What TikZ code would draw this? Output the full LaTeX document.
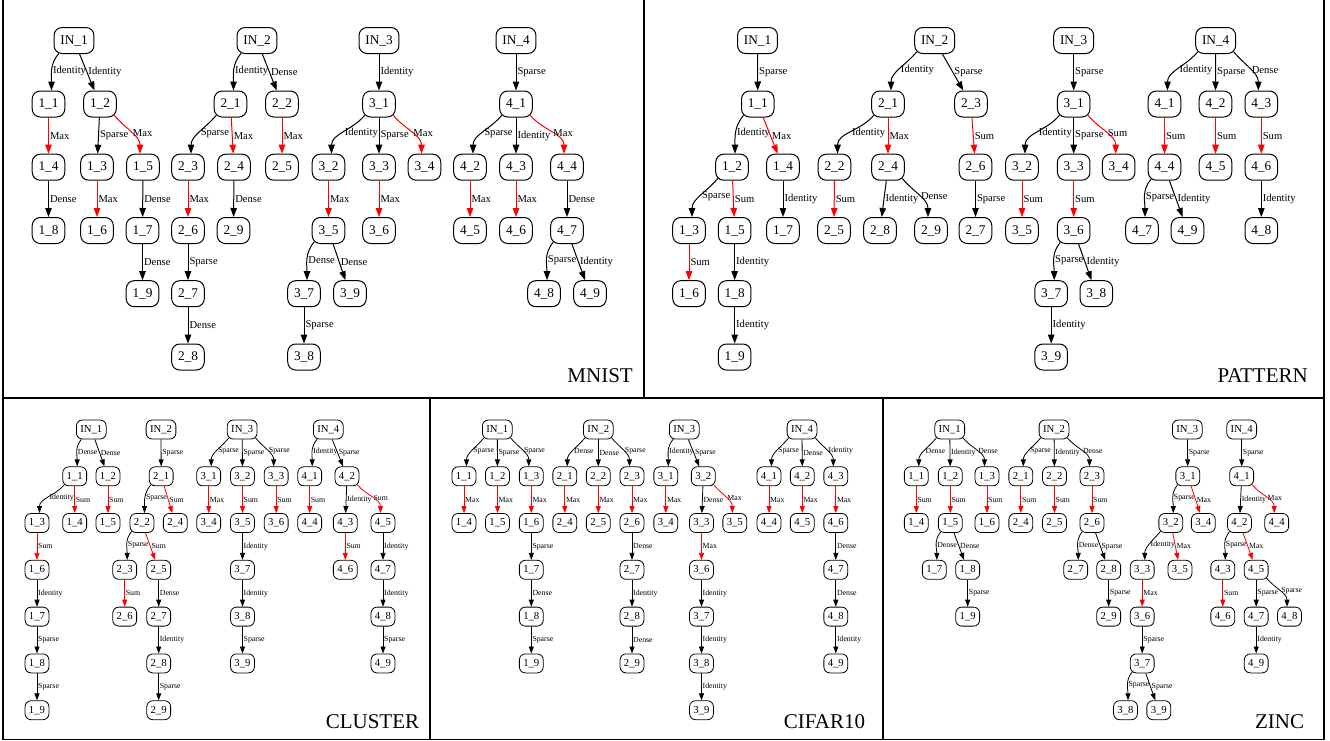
\documentclass[tikz,border=0pt]{standalone}
\usepackage{fontspec}
\setmainfont{Liberation Serif}
\newfontfamily\tms{Liberation Serif}
\usetikzlibrary{arrows.meta,calc}
\makeatletter
\newcommand\gnode[5]{\node[nn] (#1#2#3) at (#4,-#5) {#2\_#3};}
\newcommand\ginp[4]{\node[nn] (#1I#2) at (#3,-#4) {IN\_#2};}
\newcommand\gedge[4][]{%
  \pgfpointdiff{\pgfpointanchor{#2}{center}}{\pgfpointanchor{#3}{center}}%
  \pgfmathsetmacro\edx{\pgf@x}%
  \pgfpointdiff{\pgfpointanchor{#2}{center}}{\pgfpointanchor{#2}{east}}%
  \pgfmathsetmacro\ehw{\pgf@x}%
  \pgfmathsetmacro\ecurv{((\edx<\thrL) || (\edx>\thrR)) ? 1 : 0}%
  \ifdim\ecurv pt>0.5pt
    \pgfmathsetmacro\eab{min(0.6*abs(\edx), \ehw-\co)}%
    \pgfmathsetmacro\esx{\edx<0 ? -\eab : \eab}%
    \pgfmathsetmacro\eu{max(\eab-(\ehw-\rr),0)}%
    \pgfmathsetmacro\ey{\rr-sqrt(\rr*\rr-\eu*\eu)}%
    \pgfmathsetmacro\eout{\edx<0 ? -130 : -50}%
    \pgfmathsetmacro\eex{\edx<0 ? \eo : -\eo}%
    \draw[con,#1] ($(#2.south)+(\esx,\ey)$) to[out=\eout,in=90] node[elab,pos=0.5]{#4} ($(#3.north)+(\eex,0)$);
  \else
    \draw[con,#1] (#2) -- node[elab]{#4} (#3);
  \fi}
\makeatother
\def\ya{40.5}\def\yb{104}\def\yc{167.2}\def\yd{230.5}\def\ye{293.7}\def\yf{357}
\def\Ya{429.5}\def\Yb{476.3}\def\Yc{523}\def\Yd{569.8}\def\Ye{616.6}\def\Yf{663.4}\def\Yg{710.2}
\begin{document}
\begin{tikzpicture}[x=1pt,y=1pt,
  frame/.style={line width=1.3pt},
  title/.style={anchor=base east, inner sep=0pt, font=\tms\fontsize{21}{24}\selectfont}]
\useasboundingbox (0,0) rectangle (1330,-740);
\draw[frame] (3,0) -- (3,-739.3) -- (1324,-739.3) -- (1324,0);
\draw[frame] (644,0) -- (644,-398);
\draw[frame] (3,-398) -- (1324,-398);
\draw[frame] (430,-398) -- (430,-739.3);
\draw[frame] (883,-398) -- (883,-739.3);
\node[title] (tmnist) at (633,-382) {MNIST};
\node[title] (tpattern) at (1308,-382) {PATTERN};
\node[title] (tcluster) at (419.3,-728) {CLUSTER};
\node[title] (tcifar) at (865.3,-728) {CIFAR10};
\node[title] (tzinc) at (1304.3,-728) {ZINC};
% ---------------- top panels
\begin{scope}[nn/.style={draw, line width=1pt, rounded corners=8pt, inner xsep=6.3pt, inner ysep=0pt, minimum height=26pt, font=\tms\fontsize{13.3}{15}\selectfont},
  con/.style={line width=1pt, -{Triangle[length=9pt,width=6.5pt]}},
  elab/.style={anchor=west, inner sep=1pt, text=black, font=\tms\fontsize{10.6}{12}\selectfont}]
\def\thrL{-12}\def\thrR{38}\def\co{2.5}\def\eo{3}\def\rr{8}
% MNIST
\ginp{a}{1}{74}{\ya}
\gnode{a}{1}{1}{48.5}{\yb} \gnode{a}{1}{2}{100}{\yb}
\gnode{a}{1}{4}{48.5}{\yc} \gnode{a}{1}{3}{97}{\yc} \gnode{a}{1}{5}{143}{\yc}
\gnode{a}{1}{8}{48.5}{\yd} \gnode{a}{1}{6}{97}{\yd} \gnode{a}{1}{7}{142.5}{\yd}
\gnode{a}{1}{9}{142.5}{\ye}
\ginp{a}{2}{257}{\ya}
\gnode{a}{2}{1}{230.5}{\yb} \gnode{a}{2}{2}{282}{\yb}
\gnode{a}{2}{3}{188}{\yc} \gnode{a}{2}{4}{234}{\yc} \gnode{a}{2}{5}{282}{\yc}
\gnode{a}{2}{6}{188}{\yd} \gnode{a}{2}{9}{233.5}{\yd}
\gnode{a}{2}{7}{188}{\ye} \gnode{a}{2}{8}{188}{\yf}
\ginp{a}{3}{379}{\ya}
\gnode{a}{3}{1}{379}{\yb}
\gnode{a}{3}{2}{328.5}{\yc} \gnode{a}{3}{3}{379}{\yc} \gnode{a}{3}{4}{424.5}{\yc}
\gnode{a}{3}{5}{328.5}{\yd} \gnode{a}{3}{6}{379}{\yd}
\gnode{a}{3}{7}{304}{\ye} \gnode{a}{3}{9}{350}{\ye}
\gnode{a}{3}{8}{304}{\yf}
\ginp{a}{4}{516}{\ya}
\gnode{a}{4}{1}{516}{\yb}
\gnode{a}{4}{2}{470}{\yc} \gnode{a}{4}{3}{516}{\yc} \gnode{a}{4}{4}{567}{\yc}
\gnode{a}{4}{5}{470}{\yd} \gnode{a}{4}{6}{516}{\yd} \gnode{a}{4}{7}{567}{\yd}
\gnode{a}{4}{8}{544}{\ye} \gnode{a}{4}{9}{590}{\ye}
\gedge{aI1}{a11}{Identity} \gedge{aI1}{a12}{Identity}
\gedge[red]{a11}{a14}{Max} \gedge{a12}{a13}{Sparse} \gedge[red]{a12}{a15}{Max}
\gedge{a14}{a18}{Dense} \gedge[red]{a13}{a16}{Max} \gedge{a15}{a17}{Dense} \gedge{a17}{a19}{Dense}
\gedge{aI2}{a21}{Identity} \gedge{aI2}{a22}{Dense}
\gedge{a21}{a23}{Sparse} \gedge[red]{a21}{a24}{Max} \gedge[red]{a22}{a25}{Max}
\gedge[red]{a23}{a26}{Max} \gedge{a24}{a29}{Dense} \gedge{a26}{a27}{Sparse} \gedge{a27}{a28}{Dense}
\gedge{aI3}{a31}{Identity}
\gedge{a31}{a32}{Identity} \gedge{a31}{a33}{Sparse} \gedge[red]{a31}{a34}{Max}
\gedge[red]{a32}{a35}{Max} \gedge[red]{a33}{a36}{Max}
\gedge{a35}{a37}{Dense} \gedge{a35}{a39}{Dense} \gedge{a37}{a38}{Sparse}
\gedge{aI4}{a41}{Sparse}
\gedge{a41}{a42}{Sparse} \gedge{a41}{a43}{Identity} \gedge[red]{a41}{a44}{Max}
\gedge[red]{a42}{a45}{Max} \gedge[red]{a43}{a46}{Max} \gedge{a44}{a47}{Dense}
\gedge{a47}{a48}{Sparse} \gedge{a47}{a49}{Identity}
% PATTERN
\ginp{b}{1}{757.5}{\ya}
\gnode{b}{1}{1}{757.8}{\yb}
\gnode{b}{1}{2}{732}{\yc} \gnode{b}{1}{4}{783}{\yc}
\gnode{b}{1}{3}{689}{\yd} \gnode{b}{1}{5}{734.7}{\yd} \gnode{b}{1}{7}{783}{\yd}
\gnode{b}{1}{6}{689}{\ye} \gnode{b}{1}{8}{734.7}{\ye}
\gnode{b}{1}{9}{734.7}{\yf}
\gedge{bI1}{b11}{Sparse} \gedge{b11}{b12}{Identity} \gedge[red]{b11}{b14}{Max}
\gedge{b12}{b13}{Sparse} \gedge[red]{b12}{b15}{Sum} \gedge{b14}{b17}{Identity}
\gedge[red]{b13}{b16}{Sum} \gedge{b15}{b18}{Identity} \gedge{b18}{b19}{Identity}
\ginp{b}{2}{934.7}{\ya}
\gnode{b}{2}{1}{888}{\yb} \gnode{b}{2}{3}{971}{\yb}
\gnode{b}{2}{2}{834.5}{\yc} \gnode{b}{2}{4}{888}{\yc} \gnode{b}{2}{6}{975.5}{\yc}
\gnode{b}{2}{5}{834}{\yd} \gnode{b}{2}{8}{880}{\yd} \gnode{b}{2}{9}{931}{\yd} \gnode{b}{2}{7}{975.5}{\yd}
\gedge{bI2}{b21}{Identity} \gedge{bI2}{b23}{Sparse} \gedge{b21}{b22}{Identity}
\gedge[red]{b21}{b24}{Max} \gedge[red]{b23}{b26}{Sum} \gedge[red]{b22}{b25}{Sum}
\gedge{b24}{b28}{Identity} \gedge{b24}{b29}{Dense} \gedge{b26}{b27}{Sparse}
\ginp{b}{3}{1073.7}{\ya}
\gnode{b}{3}{1}{1073.7}{\yb}
\gnode{b}{3}{2}{1022}{\yc} \gnode{b}{3}{3}{1073.7}{\yc} \gnode{b}{3}{4}{1118.7}{\yc}
\gnode{b}{3}{5}{1022}{\yd} \gnode{b}{3}{6}{1073.7}{\yd}
\gnode{b}{3}{7}{1051.2}{\ye} \gnode{b}{3}{8}{1096.3}{\ye}
\gnode{b}{3}{9}{1051.2}{\yf}
\gedge{bI3}{b31}{Sparse} \gedge{b31}{b32}{Identity} \gedge{b31}{b33}{Sparse}
\gedge[red]{b31}{b34}{Sum} \gedge[red]{b32}{b35}{Sum} \gedge[red]{b33}{b36}{Sum}
\gedge{b36}{b37}{Sparse} \gedge{b36}{b38}{Identity} \gedge{b37}{b39}{Identity}
\ginp{b}{4}{1215.7}{\ya}
\gnode{b}{4}{1}{1164.5}{\yb} \gnode{b}{4}{2}{1215.5}{\yb} \gnode{b}{4}{3}{1261.3}{\yb}
\gnode{b}{4}{4}{1164.5}{\yc} \gnode{b}{4}{5}{1215.5}{\yc} \gnode{b}{4}{6}{1261.3}{\yc}
\gnode{b}{4}{7}{1142}{\yd} \gnode{b}{4}{9}{1187.5}{\yd} \gnode{b}{4}{8}{1261.3}{\yd}
\gedge{bI4}{b41}{Identity} \gedge{bI4}{b42}{Sparse} \gedge{bI4}{b43}{Dense}
\gedge[red]{b41}{b44}{Sum} \gedge[red]{b42}{b45}{Sum} \gedge[red]{b43}{b46}{Sum}
\gedge{b44}{b47}{Sparse} \gedge{b44}{b49}{Identity} \gedge{b46}{b48}{Identity}
\end{scope}
% ---------------- bottom panels
\begin{scope}[nn/.style={draw, line width=0.8pt, rounded corners=6pt, inner xsep=3.9pt, inner ysep=0pt, minimum height=19pt, font=\tms\fontsize{10.7}{12}\selectfont},
  con/.style={line width=0.8pt, -{Triangle[length=7pt,width=5pt]}},
  elab/.style={anchor=west, inner sep=0.8pt, text=black, font=\tms\fontsize{7.8}{9}\selectfont}]
\def\thrL{-8}\def\thrR{28}\def\co{2}\def\eo{2.5}\def\rr{6}
% CLUSTER
\ginp{c}{1}{91.3}{\Ya}
\gnode{c}{1}{1}{74.7}{\Yb} \gnode{c}{1}{2}{108}{\Yb}
\gnode{c}{1}{3}{37}{\Yc} \gnode{c}{1}{4}{74.7}{\Yc} \gnode{c}{1}{5}{108}{\Yc}
\gnode{c}{1}{6}{37}{\Yd} \gnode{c}{1}{7}{37}{\Ye} \gnode{c}{1}{8}{37}{\Yf} \gnode{c}{1}{9}{37}{\Yg}
\gedge{cI1}{c11}{Dense} \gedge{cI1}{c12}{Dense} \gedge{c11}{c13}{Identity}
\gedge[red]{c11}{c14}{Sum} \gedge[red]{c12}{c15}{Sum} \gedge[red]{c13}{c16}{Sum}
\gedge{c16}{c17}{Identity} \gedge{c17}{c18}{Sparse} \gedge{c18}{c19}{Sparse}
\ginp{c}{2}{161}{\Ya}
\gnode{c}{2}{1}{161.2}{\Yb}
\gnode{c}{2}{2}{142}{\Yc} \gnode{c}{2}{4}{175.3}{\Yc}
\gnode{c}{2}{3}{124.7}{\Yd} \gnode{c}{2}{5}{158.7}{\Yd}
\gnode{c}{2}{6}{124.7}{\Ye} \gnode{c}{2}{7}{158.7}{\Ye}
\gnode{c}{2}{8}{158.7}{\Yf} \gnode{c}{2}{9}{158.7}{\Yg}
\gedge{cI2}{c21}{Sparse} \gedge{c21}{c22}{Sparse} \gedge[red]{c21}{c24}{Sum}
\gedge{c22}{c23}{Sparse} \gedge[red]{c22}{c25}{Sum} \gedge[red]{c23}{c26}{Sum}
\gedge{c25}{c27}{Dense} \gedge{c27}{c28}{Identity} \gedge{c28}{c29}{Sparse}
\ginp{c}{3}{242.2}{\Ya}
\gnode{c}{3}{1}{208.7}{\Yb} \gnode{c}{3}{2}{242.5}{\Yb} \gnode{c}{3}{3}{276.2}{\Yb}
\gnode{c}{3}{4}{208.7}{\Yc} \gnode{c}{3}{5}{242.5}{\Yc} \gnode{c}{3}{6}{276.2}{\Yc}
\gnode{c}{3}{7}{242.5}{\Yd} \gnode{c}{3}{8}{242.5}{\Ye} \gnode{c}{3}{9}{242.5}{\Yf}
\gedge{cI3}{c31}{Sparse} \gedge{cI3}{c32}{Sparse} \gedge{cI3}{c33}{Sparse}
\gedge[red]{c31}{c34}{Max} \gedge[red]{c32}{c35}{Sum} \gedge[red]{c33}{c36}{Sum}
\gedge{c35}{c37}{Identity} \gedge{c37}{c38}{Identity} \gedge{c38}{c39}{Sparse}
\ginp{c}{4}{328.3}{\Ya}
\gnode{c}{4}{1}{309.7}{\Yb} \gnode{c}{4}{2}{347}{\Yb}
\gnode{c}{4}{4}{309.7}{\Yc} \gnode{c}{4}{3}{345.3}{\Yc} \gnode{c}{4}{5}{383}{\Yc}
\gnode{c}{4}{6}{345.3}{\Yd} \gnode{c}{4}{7}{383}{\Yd}
\gnode{c}{4}{8}{383}{\Ye} \gnode{c}{4}{9}{383}{\Yf}
\gedge{cI4}{c41}{Identity} \gedge{cI4}{c42}{Sparse} \gedge[red]{c41}{c44}{Sum}
\gedge{c42}{c43}{Identity} \gedge[red]{c42}{c45}{Sum} \gedge[red]{c43}{c46}{Sum}
\gedge{c45}{c47}{Identity} \gedge{c47}{c48}{Identity} \gedge{c48}{c49}{Sparse}
% CIFAR10
\ginp{d}{1}{497.3}{\Ya}
\gnode{d}{1}{1}{464}{\Yb} \gnode{d}{1}{2}{497.5}{\Yb} \gnode{d}{1}{3}{531.3}{\Yb}
\gnode{d}{1}{4}{464}{\Yc} \gnode{d}{1}{5}{497.5}{\Yc} \gnode{d}{1}{6}{531.3}{\Yc}
\gnode{d}{1}{7}{531.3}{\Yd} \gnode{d}{1}{8}{531.3}{\Ye} \gnode{d}{1}{9}{531.3}{\Yf}
\gedge{dI1}{d11}{Sparse} \gedge{dI1}{d12}{Sparse} \gedge{dI1}{d13}{Sparse}
\gedge[red]{d11}{d14}{Max} \gedge[red]{d12}{d15}{Max} \gedge[red]{d13}{d16}{Max}
\gedge{d16}{d17}{Sparse} \gedge{d17}{d18}{Dense} \gedge{d18}{d19}{Sparse}
\ginp{d}{2}{598.3}{\Ya}
\gnode{d}{2}{1}{564.8}{\Yb} \gnode{d}{2}{2}{598.3}{\Yb} \gnode{d}{2}{3}{632}{\Yb}
\gnode{d}{2}{4}{564.8}{\Yc} \gnode{d}{2}{5}{598.3}{\Yc} \gnode{d}{2}{6}{632}{\Yc}
\gnode{d}{2}{7}{632}{\Yd} \gnode{d}{2}{8}{632}{\Ye} \gnode{d}{2}{9}{632}{\Yf}
\gedge{dI2}{d21}{Dense} \gedge{dI2}{d22}{Dense} \gedge{dI2}{d23}{Sparse}
\gedge[red]{d21}{d24}{Max} \gedge[red]{d22}{d25}{Max} \gedge[red]{d23}{d26}{Max}
\gedge{d26}{d27}{Dense} \gedge{d27}{d28}{Identity} \gedge{d28}{d29}{Dense}
\ginp{d}{3}{684.3}{\Ya}
\gnode{d}{3}{1}{665.8}{\Yb} \gnode{d}{3}{2}{703.3}{\Yb}
\gnode{d}{3}{4}{665.8}{\Yc} \gnode{d}{3}{3}{701.5}{\Yc} \gnode{d}{3}{5}{734.8}{\Yc}
\gnode{d}{3}{6}{701.5}{\Yd} \gnode{d}{3}{7}{701.5}{\Ye} \gnode{d}{3}{8}{701.5}{\Yf} \gnode{d}{3}{9}{701.5}{\Yg}
\gedge{dI3}{d31}{Identity} \gedge{dI3}{d32}{Sparse} \gedge[red]{d31}{d34}{Max}
\gedge{d32}{d33}{Dense} \gedge[red]{d32}{d35}{Max} \gedge[red]{d33}{d36}{Max}
\gedge{d36}{d37}{Identity} \gedge{d37}{d38}{Identity} \gedge{d38}{d39}{Identity}
\ginp{d}{4}{802}{\Ya}
\gnode{d}{4}{1}{769}{\Yb} \gnode{d}{4}{2}{802.3}{\Yb} \gnode{d}{4}{3}{835.8}{\Yb}
\gnode{d}{4}{4}{769}{\Yc} \gnode{d}{4}{5}{802.3}{\Yc} \gnode{d}{4}{6}{835.8}{\Yc}
\gnode{d}{4}{7}{835.8}{\Yd} \gnode{d}{4}{8}{835.8}{\Ye} \gnode{d}{4}{9}{835.8}{\Yf}
\gedge{dI4}{d41}{Sparse} \gedge{dI4}{d42}{Dense} \gedge{dI4}{d43}{Identity}
\gedge[red]{d41}{d44}{Max} \gedge[red]{d42}{d45}{Max} \gedge[red]{d43}{d46}{Max}
\gedge{d46}{d47}{Dense} \gedge{d47}{d48}{Dense} \gedge{d48}{d49}{Identity}
% ZINC
\ginp{e}{1}{949.7}{\Ya}
\gnode{e}{1}{1}{916.3}{\Yb} \gnode{e}{1}{2}{950.3}{\Yb} \gnode{e}{1}{3}{987}{\Yb}
\gnode{e}{1}{4}{916.3}{\Yc} \gnode{e}{1}{5}{950.3}{\Yc} \gnode{e}{1}{6}{987}{\Yc}
\gnode{e}{1}{7}{934.3}{\Yd} \gnode{e}{1}{8}{967.7}{\Yd}
\gnode{e}{1}{9}{967.7}{\Ye}
\gedge{eI1}{e11}{Dense} \gedge{eI1}{e12}{Identity} \gedge{eI1}{e13}{Dense}
\gedge[red]{e11}{e14}{Sum} \gedge[red]{e12}{e15}{Sum} \gedge[red]{e13}{e16}{Sum}
\gedge{e15}{e17}{Dense} \gedge{e15}{e18}{Dense} \gedge{e18}{e19}{Sparse}
\ginp{e}{2}{1054}{\Ya}
\gnode{e}{2}{1}{1020.8}{\Yb} \gnode{e}{2}{2}{1054.5}{\Yb} \gnode{e}{2}{3}{1092}{\Yb}
\gnode{e}{2}{4}{1020.8}{\Yc} \gnode{e}{2}{5}{1054.5}{\Yc} \gnode{e}{2}{6}{1092}{\Yc}
\gnode{e}{2}{7}{1075.7}{\Yd} \gnode{e}{2}{8}{1108.7}{\Yd}
\gnode{e}{2}{9}{1108.7}{\Ye}
\gedge{eI2}{e21}{Sparse} \gedge{eI2}{e22}{Identity} \gedge{eI2}{e23}{Dense}
\gedge[red]{e21}{e24}{Sum} \gedge[red]{e22}{e25}{Sum} \gedge[red]{e23}{e26}{Sum}
\gedge{e26}{e27}{Dense} \gedge{e26}{e28}{Sparse} \gedge{e28}{e29}{Sparse}
\ginp{e}{3}{1187.3}{\Ya}
\gnode{e}{3}{1}{1187.8}{\Yb}
\gnode{e}{3}{2}{1170.8}{\Yc} \gnode{e}{3}{4}{1203.3}{\Yc}
\gnode{e}{3}{3}{1142.2}{\Yd} \gnode{e}{3}{5}{1180}{\Yd}
\gnode{e}{3}{6}{1142.2}{\Ye} \gnode{e}{3}{7}{1142.2}{\Yf}
\gnode{e}{3}{8}{1125.5}{\Yg} \gnode{e}{3}{9}{1158.8}{\Yg}
\gedge{eI3}{e31}{Sparse} \gedge{e31}{e32}{Sparse} \gedge[red]{e31}{e34}{Max}
\gedge{e32}{e33}{Identity} \gedge[red]{e32}{e35}{Max} \gedge[red]{e33}{e36}{Max}
\gedge{e36}{e37}{Sparse} \gedge{e37}{e38}{Sparse} \gedge{e37}{e39}{Sparse}
\ginp{e}{4}{1241.7}{\Ya}
\gnode{e}{4}{1}{1241.7}{\Yb}
\gnode{e}{4}{2}{1239.5}{\Yc} \gnode{e}{4}{4}{1276.7}{\Yc}
\gnode{e}{4}{3}{1222.8}{\Yd} \gnode{e}{4}{5}{1256.2}{\Yd}
\gnode{e}{4}{6}{1222.8}{\Ye} \gnode{e}{4}{7}{1256.2}{\Ye} \gnode{e}{4}{8}{1289.5}{\Ye}
\gnode{e}{4}{9}{1256.2}{\Yf}
\gedge{eI4}{e41}{Sparse} \gedge{e41}{e42}{Identity} \gedge[red]{e41}{e44}{Max}
\gedge{e42}{e43}{Sparse} \gedge[red]{e42}{e45}{Max} \gedge[red]{e43}{e46}{Sum}
\gedge{e45}{e47}{Sparse} \gedge{e45}{e48}{Sparse} \gedge{e47}{e49}{Identity}
\end{scope}
\end{tikzpicture}
\end{document}
